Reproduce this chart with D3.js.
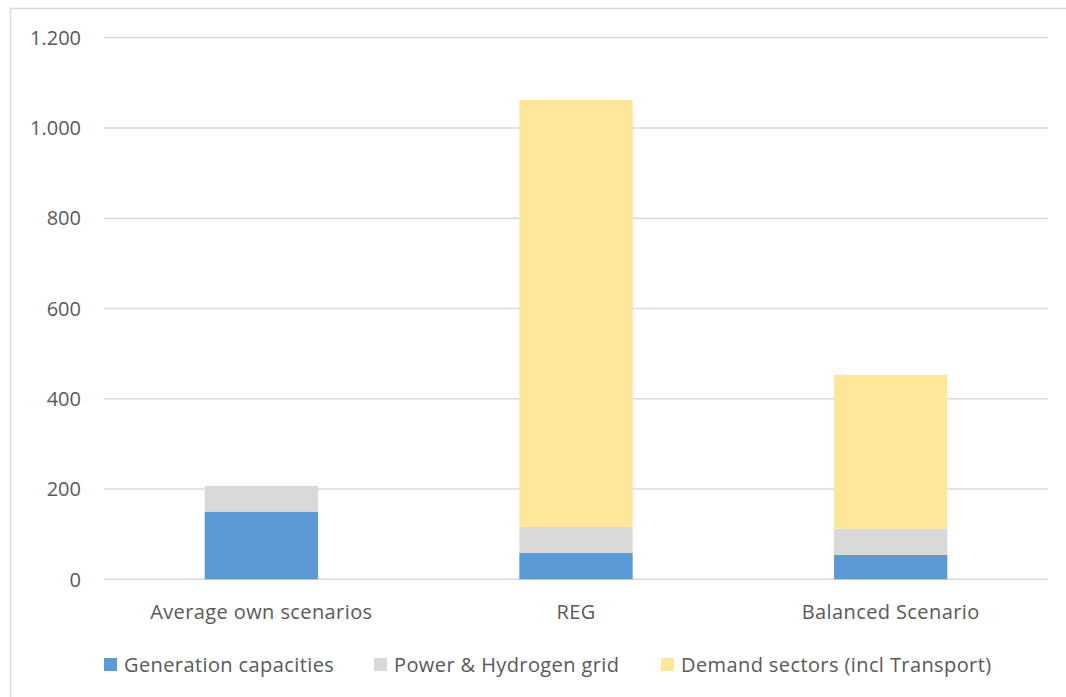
<!DOCTYPE html>
<html>
<head>
<meta charset="utf-8">
<script src="https://cdn.jsdelivr.net/npm/d3@7"></script>
<style>
  body { margin: 0; background: #fff; }
  text { font-family: "Open Sans", sans-serif; fill: #595959; }
</style>
</head>
<body>
<svg id="chart"></svg>
<script>
const width = 1066;
const height = 697;

// data
const categories = ['Average own scenarios', 'REG', 'Balanced Scenario'];
const seriesNames = ['Generation capacities', 'Power & Hydrogen grid', 'Demand sectors (incl Transport)'];
const generation = [150, 59, 54];
const grid = [57, 57, 58];
const demand = [0, 946, 341];
const yTicks = [0, 200, 400, 600, 800, 1000, 1200];
const colors = ['#5b9bd5', '#d9d9d9', '#ffe699'];

const margin = {left: 104, right: 18, top: 38, bottom: 118};

const svg = d3.select('#chart')
    .attr('width', width).attr('height', height);

// outer chart border
svg.append('rect')
    .attr('x', 10.5).attr('y', 8.5)
    .attr('width', width + 10).attr('height', height + 10)
    .attr('fill', 'none')
    .attr('stroke', '#d9d9d9')
    .attr('stroke-width', 1.5);

const x = d3.scaleBand()
    .domain(categories)
    .range([margin.left, width - margin.right])
    .paddingInner(0.64)
    .paddingOuter(0.32);

const y = d3.scaleLinear()
    .domain([0, 1200])
    .range([579.3, 37.7]);

// thousands separator is a dot
const fmt = d => d >= 1000 ? d3.format(',')(d).replace(',', '.') : String(d);

// gridlines
svg.append('g')
    .selectAll('line')
    .data(yTicks)
    .enter().append('line')
    .attr('x1', margin.left).attr('x2', width - margin.right)
    .attr('y1', d => y(d)).attr('y2', d => y(d))
    .attr('stroke', '#d9d9d9')
    .attr('stroke-width', 1.5);

// y labels
svg.append('g')
    .selectAll('text')
    .data(yTicks)
    .enter().append('text')
    .attr('x', 81)
    .attr('y', d => y(d))
    .attr('dy', '0.36em')
    .attr('text-anchor', 'end')
    .style('font-size', '20px')
    .text(fmt);

// stack
const rows = categories.map((c, i) => ({
    cat: c, s0: generation[i], s1: grid[i], s2: demand[i]
}));
const stack = d3.stack().keys(['s0', 's1', 's2']);
const layers = stack(rows);

svg.append('g')
    .selectAll('g')
    .data(layers)
    .enter().append('g')
    .attr('fill', (d, i) => colors[i])
    .selectAll('rect')
    .data(d => d)
    .enter().append('rect')
    .attr('x', d => x(d.data.cat))
    .attr('width', x.bandwidth())
    .attr('y', d => y(d[1]))
    .attr('height', d => y(d[0]) - y(d[1]));

// category labels
svg.append('g')
    .selectAll('text')
    .data(categories)
    .enter().append('text')
    .attr('x', d => x(d) + x.bandwidth() / 2)
    .attr('y', 619)
    .attr('text-anchor', 'middle')
    .style('font-size', '20px')
    .style('letter-spacing', '0.4px')
    .text(d => d);

// legend
const legendX = [104, 374, 661];
const legend = svg.append('g')
    .selectAll('g')
    .data(seriesNames)
    .enter().append('g')
    .attr('transform', (d, i) => `translate(${legendX[i]},658)`);

legend.append('rect')
    .attr('width', 13).attr('height', 13)
    .attr('fill', (d, i) => colors[i]);

legend.append('text')
    .attr('x', 20)
    .attr('y', 14)
    .style('font-size', '20px')
    .style('letter-spacing', '0.4px')
    .text(d => d);
</script>
</body>
</html>
